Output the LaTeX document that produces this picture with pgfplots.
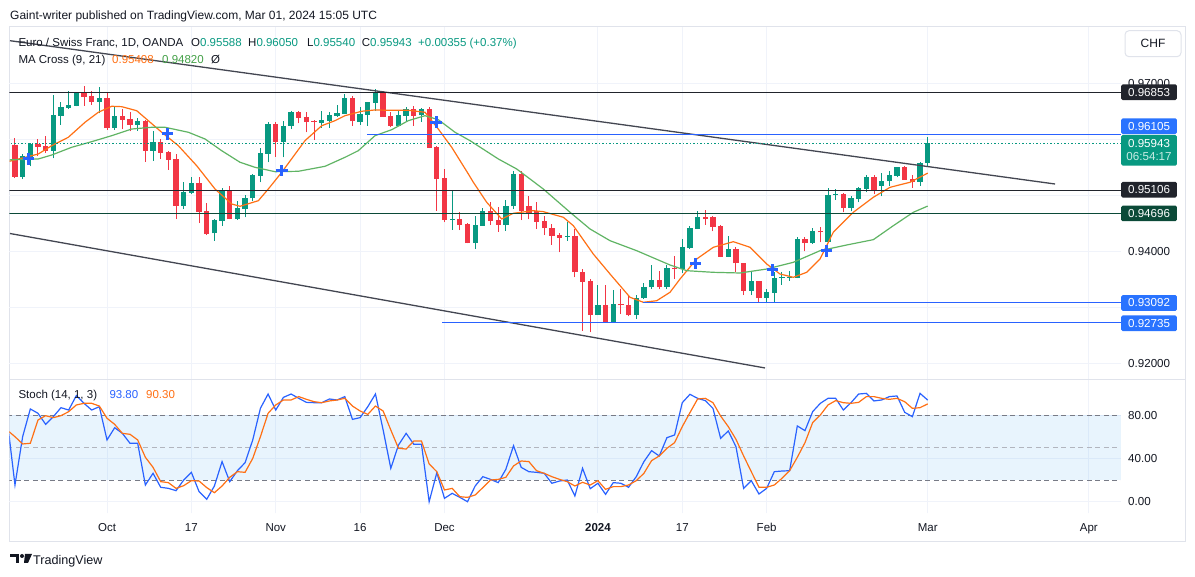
\documentclass[border=0pt]{standalone}
\usepackage{pgfplots}
\pgfplotsset{compat=1.18}
\usepackage{pgfplotstable}
\usepackage{fontspec}
\setmainfont{Liberation Sans}
\definecolor{txt}{RGB}{19,23,34}
\definecolor{upc}{RGB}{8,153,129}
\definecolor{dnc}{RGB}{242,54,69}
\definecolor{ma9}{RGB}{255,112,20}
\definecolor{ma21}{RGB}{96,180,100}
\definecolor{ma21t}{RGB}{67,160,71}
\definecolor{tvblue}{RGB}{41,98,255}
\definecolor{boxblue}{RGB}{41,115,255}
\definecolor{gridc}{RGB}{240,243,250}
\definecolor{framec}{RGB}{224,227,235}
\definecolor{darkln}{RGB}{33,36,44}
\definecolor{dkgreen}{RGB}{11,74,56}
\definecolor{dashc}{RGB}{120,123,134}
\definecolor{dash50}{RGB}{178,181,190}
\definecolor{bandc}{RGB}{33,150,243}
\definecolor{trendc}{RGB}{67,70,81}
\definecolor{cdown}{RGB}{200,236,228}
\newcommand\fs[1]{\fontsize{#1}{#1}\selectfont}

\pgfplotstableread{
i u o h l c
-12 0 0.95910 0.96030 0.95321 0.95344
-11 1 0.95344 0.95750 0.95303 0.95719
-10 1 0.95701 0.95946 0.95530 0.95928
-9 0 0.95928 0.96018 0.95719 0.95880
-8 0 0.95893 0.96066 0.95768 0.95809
-7 1 0.95809 0.96803 0.95673 0.96446
-6 1 0.96434 0.96684 0.96273 0.96584
-5 1 0.96577 0.96870 0.96553 0.96625
-4 1 0.96612 0.96845 0.96602 0.96839
-3 0 0.96839 0.96970 0.96612 0.96773
-2 0 0.96786 0.96870 0.96625 0.96684
-1 1 0.96684 0.96946 0.96477 0.96750
0 0 0.96750 0.96862 0.96184 0.96214
1 1 0.96214 0.96589 0.96184 0.96428
2 0 0.96428 0.96553 0.96196 0.96362
3 0 0.96375 0.96494 0.96155 0.96273
4 1 0.96273 0.96387 0.96166 0.96339
5 0 0.96339 0.96350 0.95612 0.95809
6 1 0.95809 0.96155 0.95630 0.95964
7 0 0.95964 0.96018 0.95660 0.95773
8 0 0.95785 0.95809 0.95469 0.95648
9 0 0.95660 0.95744 0.94589 0.94826
10 1 0.94826 0.95244 0.94767 0.95066
11 1 0.95059 0.95344 0.95035 0.95226
12 0 0.95226 0.95344 0.94517 0.94719
13 0 0.94726 0.94869 0.94303 0.94321
14 1 0.94333 0.94589 0.94201 0.94571
15 1 0.94558 0.95143 0.94469 0.95084
16 0 0.95084 0.95173 0.94584 0.94589
17 1 0.94589 0.94905 0.94577 0.94780
18 1 0.94767 0.95018 0.94619 0.94964
19 1 0.94959 0.95400 0.94910 0.95375
20 1 0.95362 0.95852 0.95244 0.95768
21 1 0.95755 0.96327 0.95601 0.96286
22 0 0.96286 0.96316 0.95701 0.95959
23 1 0.95959 0.96339 0.95691 0.96250
24 1 0.96250 0.96523 0.96196 0.96500
25 0 0.96500 0.96512 0.96298 0.96398
26 0 0.96405 0.96500 0.96137 0.96321
27 0 0.96344 0.96357 0.96000 0.96327
28 1 0.96309 0.96512 0.96219 0.96357
29 1 0.96344 0.96494 0.96219 0.96446
30 1 0.96434 0.96625 0.96411 0.96487
31 1 0.96470 0.96821 0.96464 0.96750
32 0 0.96750 0.96786 0.96255 0.96334
33 1 0.96321 0.96584 0.96273 0.96464
34 1 0.96452 0.96680 0.96255 0.96673
35 1 0.96661 0.96911 0.96523 0.96862
36 0 0.96862 0.96870 0.96410 0.96416
37 0 0.96428 0.96505 0.96227 0.96255
38 1 0.96255 0.96518 0.96244 0.96446
39 1 0.96434 0.96584 0.96344 0.96553
40 0 0.96553 0.96612 0.96255 0.96434
41 1 0.96441 0.96577 0.96327 0.96553
42 0 0.96553 0.96589 0.95855 0.95862
43 0 0.95869 0.95898 0.94737 0.95303
44 0 0.95321 0.95482 0.94530 0.94576
45 1 0.94575 0.95089 0.94398 0.94595
46 0 0.94589 0.94709 0.94392 0.94487
47 0 0.94500 0.94510 0.94155 0.94160
48 1 0.94160 0.94637 0.94053 0.94482
49 1 0.94470 0.94785 0.94465 0.94737
50 0 0.94737 0.94898 0.94487 0.94558
51 0 0.94571 0.94808 0.94362 0.94487
52 1 0.94487 0.94934 0.94380 0.94816
53 1 0.94816 0.95452 0.94767 0.95393
54 0 0.95393 0.95441 0.94571 0.94737
55 0 0.94816 0.94995 0.94584 0.94691
56 0 0.94737 0.94898 0.94410 0.94540
57 0 0.94553 0.94637 0.94303 0.94423
58 0 0.94429 0.94500 0.94130 0.94291
59 0 0.94303 0.94339 0.93995 0.94250
60 1 0.94272 0.94530 0.94201 0.94292
61 0 0.94280 0.94411 0.93548 0.93637
62 0 0.93637 0.93696 0.92594 0.93469
63 0 0.93476 0.93517 0.92565 0.92874
64 1 0.92874 0.93410 0.92870 0.93053
65 0 0.93053 0.93410 0.92735 0.92740
66 1 0.92740 0.93321 0.92735 0.93071
67 0 0.93071 0.93339 0.92892 0.93048
68 0 0.93058 0.93219 0.92851 0.92874
69 1 0.92874 0.93232 0.92803 0.93173
70 1 0.93173 0.93440 0.93161 0.93380
71 1 0.93369 0.93767 0.93339 0.93500
72 0 0.93500 0.93666 0.93339 0.93369
73 1 0.93380 0.93767 0.93339 0.93714
74 0 0.93714 0.93923 0.93517 0.93696
75 1 0.93696 0.94232 0.93624 0.94094
76 1 0.94071 0.94458 0.94054 0.94428
77 1 0.94411 0.94732 0.94410 0.94619
78 0 0.94619 0.94755 0.94482 0.94589
79 0 0.94619 0.94637 0.94370 0.94452
80 0 0.94470 0.94487 0.93910 0.93916
81 1 0.93916 0.94280 0.93910 0.94054
82 0 0.94054 0.94094 0.93637 0.93798
83 0 0.93804 0.93810 0.93232 0.93308
84 1 0.93308 0.93666 0.93232 0.93476
85 0 0.93476 0.93480 0.93092 0.93178
86 1 0.93178 0.93339 0.93110 0.93280
87 1 0.93268 0.93648 0.93110 0.93536
88 1 0.93535 0.93637 0.93416 0.93555
89 1 0.93540 0.93666 0.93487 0.93560
90 1 0.93536 0.94273 0.93530 0.94232
91 0 0.94232 0.94262 0.94012 0.94160
92 1 0.94160 0.94429 0.94143 0.94380
93 0 0.94375 0.94441 0.94173 0.94352
94 1 0.94173 0.95137 0.94170 0.95018
95 1 0.95018 0.95125 0.94934 0.95038
96 0 0.95036 0.95054 0.94709 0.94786
97 1 0.94786 0.94994 0.94727 0.94964
98 1 0.94946 0.95155 0.94887 0.95143
99 1 0.95125 0.95375 0.95066 0.95334
100 0 0.95334 0.95380 0.95035 0.95107
101 1 0.95184 0.95411 0.94995 0.95273
102 1 0.95262 0.95441 0.95184 0.95375
103 1 0.95362 0.95523 0.95334 0.95512
104 0 0.95512 0.95541 0.95286 0.95291
105 0 0.95303 0.95375 0.95143 0.95255
106 1 0.95255 0.95612 0.95184 0.95588
107 1 0.95588 0.96050 0.95540 0.95943
}\candles

\begin{document}
\begin{tikzpicture}
\path[use as bounding box] (0pt,0pt) rectangle (1195pt,577pt);
\fill[white] (0pt,0pt) rectangle (1195pt,577pt);
% frame
\draw[framec, line width=1pt] (9.3pt,35.3pt) rectangle (1185pt,550.8pt);

\begin{axis}[at={(9.3pt,197.7pt)}, anchor=south west, scale only axis,
  width=1111.7pt, height=352.6pt,
  xmin=-12.74, xmax=132.2, ymin=0.917268, ymax=0.980232,
  axis line style={draw=none}, major tick length=0pt,
  xtick={0,11,22,33,44,64,75,86,107,128}, xticklabel=\mbox{},
  ytick={0.92,0.93,0.94,0.95,0.96,0.97}, yticklabel pos=right,
  yticklabels={0.92000,\mbox{},0.94000,\mbox{},\mbox{},0.97000},
  yticklabel style={font=\fs{11.6}, color=txt, anchor=west, inner sep=0pt, xshift=7pt},
  grid=major, major grid style={draw=gridc, line width=1pt},
  clip mode=individual, unbounded coords=discard]
% wicks
\addplot[draw=none, mark=none, forget plot, error bars/.cd, y dir=plus, y explicit, error mark=none,
  error bar style={line width=1pt, draw=upc, line cap=butt}]
  table[x=i, y expr={\thisrow{u}>0.5 ? \thisrow{l} : nan}, y error expr={\thisrow{h}-\thisrow{l}}] {\candles};
\addplot[draw=none, mark=none, forget plot, error bars/.cd, y dir=plus, y explicit, error mark=none,
  error bar style={line width=1pt, draw=dnc, line cap=butt}]
  table[x=i, y expr={\thisrow{u}<0.5 ? \thisrow{l} : nan}, y error expr={\thisrow{h}-\thisrow{l}}] {\candles};
% bodies
\addplot[draw=none, mark=none, forget plot, error bars/.cd, y dir=plus, y explicit, error mark=none,
  error bar style={line width=5.3pt, draw=upc, line cap=butt}]
  table[x=i, y expr={\thisrow{u}>0.5 ? \thisrow{o} : nan}, y error expr={\thisrow{c}-\thisrow{o}}] {\candles};
\addplot[draw=none, mark=none, forget plot, error bars/.cd, y dir=plus, y explicit, error mark=none,
  error bar style={line width=5.3pt, draw=dnc, line cap=butt}]
  table[x=i, y expr={\thisrow{u}<0.5 ? \thisrow{c} : nan}, y error expr={\thisrow{o}-\thisrow{c}}] {\candles};
% MA 9
\addplot[ma9, line width=1.2pt] coordinates {
(-12.7,0.95620) (-8.96,0.95750) (-7.21,0.95898) (-5.05,0.96048) (-2.87,0.96316) (-1.13,0.96495) (0.61,0.96602) (1.92,0.96595) (3.87,0.96523) (5.38,0.96345) (7.13,0.96138) (9.30,0.95898) (11.69,0.95541) (14.08,0.95125) (16.26,0.94857) (17.34,0.94816) (19.73,0.94916) (21.03,0.95125) (22.78,0.95423) (25.81,0.95988) (27.99,0.96255) (29.73,0.96345) (31.03,0.96434) (33.21,0.96513) (34.94,0.96536) (37.12,0.96530) (39.28,0.96530) (41.46,0.96495) (43.19,0.96196) (44.94,0.95870) (47.11,0.95393) (47.76,0.95245) (49.50,0.94888) (51.46,0.94589) (52.97,0.94691) (55.58,0.94738) (56.88,0.94720) (59.49,0.94620) (60.80,0.94470) (63.40,0.93964) (65.58,0.93607) (68.19,0.93191) (69.92,0.93102) (71.67,0.93130) (73.40,0.93280) (74.71,0.93518) (76.88,0.93875) (79.05,0.94084) (81.66,0.94184) (83.83,0.94084) (86.01,0.93786) (87.74,0.93607) (89.48,0.93548) (91.22,0.93637) (92.96,0.93875) (94.69,0.94352) (97.30,0.94709) (99.91,0.94977) (102.09,0.95155) (104.69,0.95245) (107,0.95408)};
% MA 21
\addplot[ma21, line width=1.2pt] coordinates {
(-12.7,0.95645) (-8.96,0.95661) (-7.21,0.95732) (-4.6,0.95870) (-2.0,0.95970) (0.61,0.96077) (3.22,0.96196) (5.83,0.96227) (7.56,0.96227) (10.6,0.96138) (12.78,0.96018) (14.95,0.95809) (17.34,0.95602) (19.3,0.95512) (21.9,0.95434) (24.94,0.95441) (28.42,0.95530) (31.03,0.95691) (32.76,0.95809) (34.94,0.96077) (37.12,0.96184) (39.28,0.96345) (41.46,0.96434) (43.19,0.96363) (45.37,0.96138) (47.33,0.95988) (51.02,0.95661) (53.42,0.95482) (56.88,0.95125) (60.37,0.94709) (62.97,0.94411) (65.58,0.94202) (69.06,0.94023) (73.40,0.93768) (75.58,0.93666) (79.05,0.93637) (82.53,0.93625) (86.01,0.93696) (89.48,0.93816) (92.96,0.94023) (96.44,0.94125) (99.91,0.94220) (102.52,0.94470) (105.12,0.94709) (107,0.94820)};
% cross markers
\addplot[only marks, mark=+, mark size=5.8pt, tvblue, mark options={line width=3pt, solid}] coordinates {
(-10.26,0.95661) (7.86,0.96107) (22.78,0.95452) (42.93,0.96316) (76.75,0.93798) (86.79,0.93679) (93.83,0.94023)};
% trend lines
\addplot[trendc, line width=1.3pt] coordinates {(-12.65,0.97773) (123.6,0.95214)};
\addplot[trendc, line width=1.3pt] coordinates {(-12.65,0.94330) (85.79,0.91929)};
% horizontal levels
\addplot[darkln, line width=1pt] coordinates {(-13,0.96853) (133,0.96853)};
\addplot[tvblue, line width=1pt] coordinates {(33.9,0.96105) (133,0.96105)};
\addplot[upc, line width=1pt, dash pattern=on 1.2pt off 2.3pt] coordinates {(-13,0.95943) (133,0.95943)};
\addplot[darkln, line width=1pt] coordinates {(-13,0.95106) (133,0.95106)};
\addplot[dkgreen, line width=1pt] coordinates {(-13,0.94696) (133,0.94696)};
\addplot[tvblue, line width=1pt] coordinates {(69.9,0.93092) (133,0.93092)};
\addplot[tvblue, line width=1pt] coordinates {(43.7,0.92735) (133,0.92735)};
\end{axis}

\begin{axis}[at={(9.3pt,63.7pt)}, anchor=south west, scale only axis,
  width=1111.7pt, height=134pt,
  xmin=-12.74, xmax=132.2, ymin=-10.71, ymax=112.99,
  axis line style={draw=none}, major tick length=0pt,
  xtick={0,11,22,33,44,64,75,86,107,128},
  xticklabels={Oct,17,Nov,16,Dec,\textbf{2024},17,Feb,Mar,Apr},
  xticklabel style={font=\fs{11.5}, color=txt, anchor=base, inner sep=0pt, yshift=-18.4pt},
  ytick={0,40,80}, yticklabel pos=right,
  yticklabels={0.00,40.00,80.00},
  yticklabel style={font=\fs{11.6}, color=txt, anchor=west, inner sep=0pt, xshift=7pt},
  grid=major, major grid style={draw=gridc, line width=1pt},
  clip mode=individual]
\addplot[fill=bandc, fill opacity=0.1, draw=none] coordinates {(-13,20) (133,20) (133,80) (-13,80)} -- cycle;
\addplot[dashc, line width=1pt, dash pattern=on 5pt off 3.5pt] coordinates {(-13,80) (133,80)};
\addplot[dashc, line width=1pt, dash pattern=on 5pt off 3.5pt] coordinates {(-13,20) (133,20)};
\addplot[dash50, line width=1pt, dash pattern=on 5pt off 3.5pt] coordinates {(-13,50) (133,50)};
% %K
\addplot[tvblue, line width=1.2pt] coordinates {
(-13,74.8) (-12,15.4) (-11,60.0) (-10,85.6) (-9,81.6) (-8,71.4) (-7,78.5) (-6,86.8) (-5,84.6) (-4,97.9) (-3,90.8) (-2,84.6) (-1,87.7) (0,57.0) (1,68.3) (2,63.1) (3,53.9) (4,53.9) (5,15.4) (6,26.2) (7,13.3) (8,12.3) (9,10.2) (10,20.0) (11,27.1) (12,9.3) (13,2.2) (14,14.5) (15,37.0) (16,18.5) (17,28.6) (18,36.0) (19,57.0) (20,86.2) (21,99.4) (22,84.6) (23,96.3) (24,99.4) (25,95.4) (26,91.7) (27,91.4) (28,91.4) (29,94.8) (30,93.9) (31,97.0) (32,76.0) (33,77.6) (34,87.7) (35,99.4) (36,66.2) (37,30.8) (38,52.3) (39,63.1) (40,53.0) (41,53.0) (42,0.0) (43,26.8) (44,3.1) (45,7.7) (46,4.0) (47,0.0) (48,14.5) (49,23.1) (50,20.6) (51,17.6) (52,29.9) (53,51.7) (54,31.7) (55,27.7) (56,27.1) (57,26.2) (58,17.0) (59,19.1) (60,20.0) (61,5.3) (62,30.8) (63,12.0) (64,17.0) (65,6.8) (66,17.6) (67,17.0) (68,13.3) (69,23.1) (70,37.0) (71,47.1) (72,42.2) (73,59.1) (74,61.6) (75,91.4) (76,99.1) (77,95.4) (78,93.3) (79,86.2) (80,58.5) (81,65.3) (82,50.8) (83,12.3) (84,19.4) (85,7.1) (86,12.3) (87,27.7) (88,28.3) (89,28.6) (90,69.9) (91,65.6) (92,83.1) (93,90.8) (94,95.4) (95,95.4) (96,84.6) (97,91.4) (98,99.4) (99,100.0) (100,93.0) (101,93.9) (102,97.0) (103,97.6) (104,82.5) (105,78.5) (106,100.0) (107,93.8)};
% %D
\addplot[ma9, line width=1.2pt] coordinates {
(-13,66.0) (-12,60.0) (-11,53.3) (-10,53.9) (-9,75.4) (-8,79.4) (-7,77.6) (-6,79.4) (-5,83.1) (-4,89.3) (-3,90.8) (-2,90.8) (-1,88.3) (0,77.0) (1,71.4) (2,63.1) (3,62.2) (4,57.0) (5,41.0) (6,31.7) (7,18.5) (8,17.6) (9,12.3) (10,14.8) (11,19.4) (12,19.1) (13,13.0) (14,8.3) (15,14.5) (16,22.5) (17,27.7) (18,27.1) (19,40.0) (20,60.0) (21,81.6) (22,89.3) (23,93.9) (24,93.9) (25,97.0) (26,94.5) (27,92.3) (28,91.4) (29,93.0) (30,93.9) (31,95.4) (32,88.3) (33,83.7) (34,80.6) (35,88.3) (36,83.7) (37,66.2) (38,49.3) (39,48.6) (40,56.0) (41,56.0) (42,34.8) (43,27.7) (44,10.8) (45,12.3) (46,4.6) (47,4.0) (48,6.2) (49,13.0) (50,20.0) (51,20.6) (52,22.5) (53,33.0) (54,37.6) (55,37.0) (56,28.6) (57,26.2) (58,23.1) (59,20.6) (60,18.5) (61,14.5) (62,17.9) (63,15.4) (64,19.4) (65,11.4) (66,13.9) (67,13.9) (68,15.4) (69,19.4) (70,26.2) (71,37.9) (72,42.2) (73,49.3) (74,54.5) (75,69.3) (76,82.2) (77,94.8) (78,95.4) (79,91.4) (80,79.1) (81,69.3) (82,57.6) (83,42.2) (84,27.7) (85,13.3) (86,13.3) (87,15.4) (88,21.6) (89,28.6) (90,41.0) (91,54.5) (92,73.0) (93,80.0) (94,89.3) (95,93.3) (96,91.4) (97,90.8) (98,91.7) (99,97.0) (100,97.0) (101,95.4) (102,94.5) (103,95.4) (104,92.3) (105,86.2) (106,86.8) (107,90.3)};
\end{axis}

% panel separator
\draw[framec, line width=1.2pt] (9.3pt,197.7pt) -- (1185pt,197.7pt);

% price scale boxes
\tikzset{pbox/.style={anchor=west, inner sep=0pt, minimum width=55.7pt, minimum height=15.7pt,
  rounded corners=1.5pt, text=white, font=\fs{11.6}}}
\node[pbox, fill=darkln] at (1121pt,484.8pt) {0.96853};
\node[pbox, fill=boxblue] at (1121pt,450.8pt) {0.96105};
\node[pbox, fill=upc, minimum height=30.7pt, align=center, font=\fontsize{11.6}{13}\selectfont] at (1121pt,426.65pt) {0.95943\\\textcolor{cdown}{06:54:17}};
\node[pbox, fill=darkln] at (1121pt,387.3pt) {0.95106};
\node[pbox, fill=dkgreen] at (1121pt,363.6pt) {0.94696};
\node[pbox, fill=boxblue] at (1121pt,274pt) {0.93092};
\node[pbox, fill=boxblue] at (1121pt,253.7pt) {0.92735};
% CHF button
\node[draw=framec, line width=1pt, rounded corners=4pt, minimum width=56pt, minimum height=26pt,
  inner sep=0pt, font=\fs{12}, text=txt] at (1153pt,533.3pt) {CHF};

% header and legends
\tikzset{lbl/.style={anchor=base west, inner sep=0pt, text=txt}}
\node[lbl, font=\fs{12}] at (10pt,557.7pt) {Gaint-writer published on TradingView.com, Mar 01, 2024 15:05 UTC};
\node[lbl, font=\fs{11.5}] at (18.3pt,530.3pt) {Euro / Swiss Franc, 1D, OANDA};
\node[lbl, font=\fs{11.5}] at (191pt,530.3pt) {O\textcolor{upc}{0.95588}};
\node[lbl, font=\fs{11.5}] at (248pt,530.3pt) {H\textcolor{upc}{0.96050}};
\node[lbl, font=\fs{11.5}] at (307pt,530.3pt) {L\textcolor{upc}{0.95540}};
\node[lbl, font=\fs{11.5}] at (361.7pt,530.3pt) {C\textcolor{upc}{0.95943}};
\node[lbl, font=\fs{11.5}] at (418pt,530.3pt) {\textcolor{upc}{+0.00355 (+0.37\%)}};
\node[lbl, font=\fs{11.5}] at (18.3pt,513.7pt) {MA Cross (9, 21)};
\node[lbl, font=\fs{11.5}, text=ma9] at (112pt,513.7pt) {0.95408};
\node[lbl, font=\fs{11.5}, text=ma21t] at (162pt,513.7pt) {0.94820};
\node[lbl, font=\fs{11.5}] at (211pt,513.7pt) {Ø};
\node[lbl, font=\fs{11.5}] at (18.3pt,178.7pt) {Stoch (14, 1, 3)};
\node[lbl, font=\fs{11.5}, text=tvblue] at (109.3pt,178.7pt) {93.80};
\node[lbl, font=\fs{11.5}, text=ma9] at (146pt,178.7pt) {90.30};

% TradingView logo
\fill[txt] (10pt,23pt) rectangle (19pt,19.5pt);
\fill[txt] (15.5pt,23pt) rectangle (19pt,14pt);
\fill[txt] (22pt,21pt) circle (2pt);
\fill[txt] (25pt,23pt) -- (32pt,23pt) -- (28pt,14pt) -- (24pt,14pt) -- cycle;
\node[lbl, font=\fs{12.6}] at (33pt,12.7pt) {TradingView};
\end{tikzpicture}
\end{document}
